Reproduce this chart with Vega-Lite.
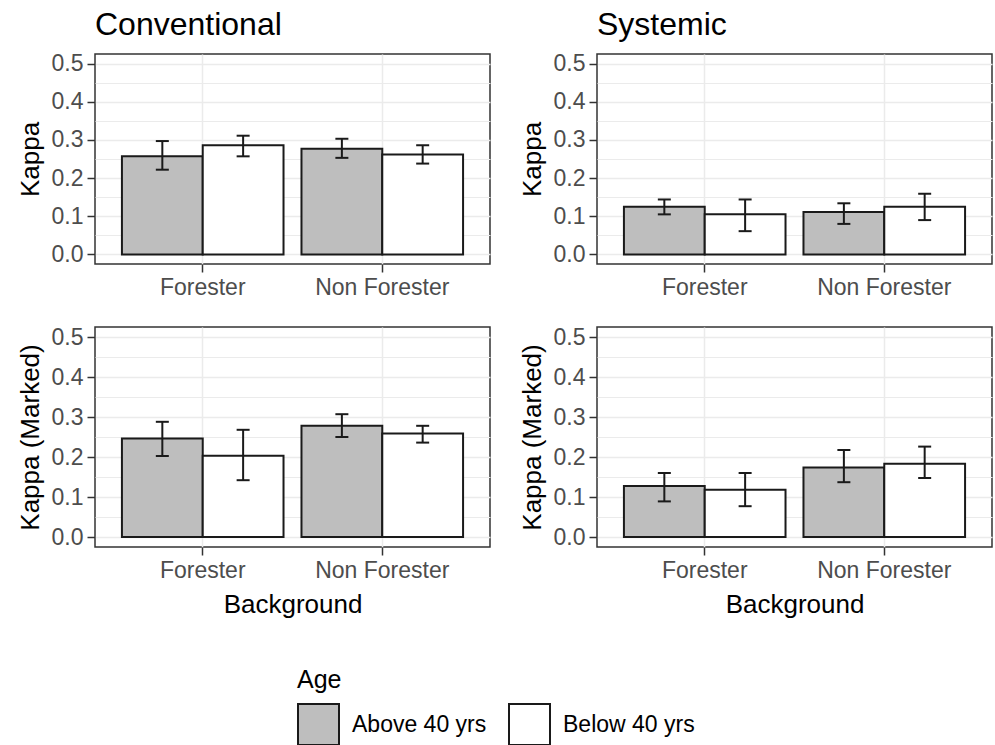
{
  "$schema": "https://vega.github.io/schema/vega-lite/v6.json",
  "padding": {"left": 16, "top": 7, "right": 2, "bottom": 0},
  "background": "#ffffff",
  "datasets": {
    "kappa": [
      {"panel": "Conventional", "background": "Forester", "age": "Above 40 yrs", "kappa": 0.257, "lo": 0.222, "hi": 0.297},
      {"panel": "Conventional", "background": "Forester", "age": "Below 40 yrs", "kappa": 0.286, "lo": 0.257, "hi": 0.311},
      {"panel": "Conventional", "background": "Non Forester", "age": "Above 40 yrs", "kappa": 0.277, "lo": 0.253, "hi": 0.303},
      {"panel": "Conventional", "background": "Non Forester", "age": "Below 40 yrs", "kappa": 0.262, "lo": 0.238, "hi": 0.286},
      {"panel": "Systemic", "background": "Forester", "age": "Above 40 yrs", "kappa": 0.125, "lo": 0.105, "hi": 0.144},
      {"panel": "Systemic", "background": "Forester", "age": "Below 40 yrs", "kappa": 0.105, "lo": 0.061, "hi": 0.144},
      {"panel": "Systemic", "background": "Non Forester", "age": "Above 40 yrs", "kappa": 0.111, "lo": 0.080, "hi": 0.134},
      {"panel": "Systemic", "background": "Non Forester", "age": "Below 40 yrs", "kappa": 0.125, "lo": 0.090, "hi": 0.159},
      {"panel": "Conventional Marked", "background": "Forester", "age": "Above 40 yrs", "kappa": 0.246, "lo": 0.2025, "hi": 0.288},
      {"panel": "Conventional Marked", "background": "Forester", "age": "Below 40 yrs", "kappa": 0.203, "lo": 0.142, "hi": 0.268},
      {"panel": "Conventional Marked", "background": "Non Forester", "age": "Above 40 yrs", "kappa": 0.278, "lo": 0.250, "hi": 0.307},
      {"panel": "Conventional Marked", "background": "Non Forester", "age": "Below 40 yrs", "kappa": 0.259, "lo": 0.236, "hi": 0.278},
      {"panel": "Systemic Marked", "background": "Forester", "age": "Above 40 yrs", "kappa": 0.1275, "lo": 0.089, "hi": 0.160},
      {"panel": "Systemic Marked", "background": "Forester", "age": "Below 40 yrs", "kappa": 0.118, "lo": 0.077, "hi": 0.160},
      {"panel": "Systemic Marked", "background": "Non Forester", "age": "Above 40 yrs", "kappa": 0.174, "lo": 0.137, "hi": 0.2175},
      {"panel": "Systemic Marked", "background": "Non Forester", "age": "Below 40 yrs", "kappa": 0.183, "lo": 0.1475, "hi": 0.226}
    ]
  },
  "data": {"name": "kappa"},
  "columns": 2,
  "bounds": "flush",
  "spacing": {"row": 63, "column": 107},
  "concat": [
    {
      "width": 395, "height": 210,
      "title": {"text": "Conventional"},
      "transform": [{"filter": "datum.panel == 'Conventional'"}],
      "encoding": {
        "x": {"field": "background", "type": "nominal", "sort": ["Forester", "Non Forester"], "scale": {"paddingInner": 0.1, "paddingOuter": 0.15}, "axis": {"title": null, "labelAngle": 0, "grid": true, "bandPosition": 0.5}},
        "xOffset": {"field": "age", "type": "nominal", "sort": ["Above 40 yrs", "Below 40 yrs"], "scale": {"paddingInner": 0, "paddingOuter": 0}}
      },
      "layer": [
        {"mark": {"type": "tick", "opacity": 0},
         "encoding": {"y": {"field": "kappa", "type": "quantitative", "scale": {"domain": [-0.025, 0.525], "nice": false, "zero": false}, "axis": {"orient": "right", "values": [0.05, 0.15, 0.25, 0.35, 0.45], "labels": false, "ticks": false, "domain": false, "title": null, "grid": true, "gridWidth": 1}}}},
        {"mark": {"type": "bar", "stroke": "#1a1a1a", "strokeWidth": 2},
         "encoding": {
           "y": {"field": "kappa", "type": "quantitative", "scale": {"domain": [-0.025, 0.525], "nice": false, "zero": false}, "axis": {"orient": "left", "title": "Kappa", "values": [0, 0.1, 0.2, 0.3, 0.4, 0.5], "format": ".1f", "grid": true}},
           "y2": {"datum": 0},
           "fill": {"field": "age", "type": "nominal", "scale": {"domain": ["Above 40 yrs", "Below 40 yrs"], "range": ["#bebebe", "#ffffff"]}, "legend": {"title": "Age"}}
         }},
        {"mark": {"type": "rule", "color": "#1a1a1a", "strokeWidth": 2},
         "encoding": {"y": {"field": "lo", "type": "quantitative", "scale": {"domain": [-0.025, 0.525], "nice": false, "zero": false}, "axis": null}, "y2": {"field": "hi"}}},
        {"mark": {"type": "tick", "color": "#1a1a1a", "thickness": 2, "size": 13, "opacity": 1},
         "encoding": {"y": {"field": "lo", "type": "quantitative", "scale": {"domain": [-0.025, 0.525], "nice": false, "zero": false}, "axis": null}}},
        {"mark": {"type": "tick", "color": "#1a1a1a", "thickness": 2, "size": 13, "opacity": 1},
         "encoding": {"y": {"field": "hi", "type": "quantitative", "scale": {"domain": [-0.025, 0.525], "nice": false, "zero": false}, "axis": null}}}
      ],
      "resolve": {"axis": {"y": "independent"}}
    },
    {
      "width": 395, "height": 210,
      "title": {"text": "Systemic"},
      "transform": [{"filter": "datum.panel == 'Systemic'"}],
      "encoding": {
        "x": {"field": "background", "type": "nominal", "sort": ["Forester", "Non Forester"], "scale": {"paddingInner": 0.1, "paddingOuter": 0.15}, "axis": {"title": null, "labelAngle": 0, "grid": true, "bandPosition": 0.5}},
        "xOffset": {"field": "age", "type": "nominal", "sort": ["Above 40 yrs", "Below 40 yrs"], "scale": {"paddingInner": 0, "paddingOuter": 0}}
      },
      "layer": [
        {"mark": {"type": "tick", "opacity": 0},
         "encoding": {"y": {"field": "kappa", "type": "quantitative", "scale": {"domain": [-0.025, 0.525], "nice": false, "zero": false}, "axis": {"orient": "right", "values": [0.05, 0.15, 0.25, 0.35, 0.45], "labels": false, "ticks": false, "domain": false, "title": null, "grid": true, "gridWidth": 1}}}},
        {"mark": {"type": "bar", "stroke": "#1a1a1a", "strokeWidth": 2},
         "encoding": {
           "y": {"field": "kappa", "type": "quantitative", "scale": {"domain": [-0.025, 0.525], "nice": false, "zero": false}, "axis": {"orient": "left", "title": "Kappa", "values": [0, 0.1, 0.2, 0.3, 0.4, 0.5], "format": ".1f", "grid": true}},
           "y2": {"datum": 0},
           "fill": {"field": "age", "type": "nominal", "scale": {"domain": ["Above 40 yrs", "Below 40 yrs"], "range": ["#bebebe", "#ffffff"]}, "legend": {"title": "Age"}}
         }},
        {"mark": {"type": "rule", "color": "#1a1a1a", "strokeWidth": 2},
         "encoding": {"y": {"field": "lo", "type": "quantitative", "scale": {"domain": [-0.025, 0.525], "nice": false, "zero": false}, "axis": null}, "y2": {"field": "hi"}}},
        {"mark": {"type": "tick", "color": "#1a1a1a", "thickness": 2, "size": 13, "opacity": 1},
         "encoding": {"y": {"field": "lo", "type": "quantitative", "scale": {"domain": [-0.025, 0.525], "nice": false, "zero": false}, "axis": null}}},
        {"mark": {"type": "tick", "color": "#1a1a1a", "thickness": 2, "size": 13, "opacity": 1},
         "encoding": {"y": {"field": "hi", "type": "quantitative", "scale": {"domain": [-0.025, 0.525], "nice": false, "zero": false}, "axis": null}}}
      ],
      "resolve": {"axis": {"y": "independent"}}
    },
    {
      "width": 395, "height": 220,
      "transform": [{"filter": "datum.panel == 'Conventional Marked'"}],
      "encoding": {
        "x": {"field": "background", "type": "nominal", "sort": ["Forester", "Non Forester"], "scale": {"paddingInner": 0.1, "paddingOuter": 0.15}, "axis": {"title": "Background", "labelAngle": 0, "grid": true, "bandPosition": 0.5}},
        "xOffset": {"field": "age", "type": "nominal", "sort": ["Above 40 yrs", "Below 40 yrs"], "scale": {"paddingInner": 0, "paddingOuter": 0}}
      },
      "layer": [
        {"mark": {"type": "tick", "opacity": 0},
         "encoding": {"y": {"field": "kappa", "type": "quantitative", "scale": {"domain": [-0.025, 0.525], "nice": false, "zero": false}, "axis": {"orient": "right", "values": [0.05, 0.15, 0.25, 0.35, 0.45], "labels": false, "ticks": false, "domain": false, "title": null, "grid": true, "gridWidth": 1}}}},
        {"mark": {"type": "bar", "stroke": "#1a1a1a", "strokeWidth": 2},
         "encoding": {
           "y": {"field": "kappa", "type": "quantitative", "scale": {"domain": [-0.025, 0.525], "nice": false, "zero": false}, "axis": {"orient": "left", "title": "Kappa (Marked)", "values": [0, 0.1, 0.2, 0.3, 0.4, 0.5], "format": ".1f", "grid": true}},
           "y2": {"datum": 0},
           "fill": {"field": "age", "type": "nominal", "scale": {"domain": ["Above 40 yrs", "Below 40 yrs"], "range": ["#bebebe", "#ffffff"]}, "legend": {"title": "Age"}}
         }},
        {"mark": {"type": "rule", "color": "#1a1a1a", "strokeWidth": 2},
         "encoding": {"y": {"field": "lo", "type": "quantitative", "scale": {"domain": [-0.025, 0.525], "nice": false, "zero": false}, "axis": null}, "y2": {"field": "hi"}}},
        {"mark": {"type": "tick", "color": "#1a1a1a", "thickness": 2, "size": 13, "opacity": 1},
         "encoding": {"y": {"field": "lo", "type": "quantitative", "scale": {"domain": [-0.025, 0.525], "nice": false, "zero": false}, "axis": null}}},
        {"mark": {"type": "tick", "color": "#1a1a1a", "thickness": 2, "size": 13, "opacity": 1},
         "encoding": {"y": {"field": "hi", "type": "quantitative", "scale": {"domain": [-0.025, 0.525], "nice": false, "zero": false}, "axis": null}}}
      ],
      "resolve": {"axis": {"y": "independent"}}
    },
    {
      "width": 395, "height": 220,
      "transform": [{"filter": "datum.panel == 'Systemic Marked'"}],
      "encoding": {
        "x": {"field": "background", "type": "nominal", "sort": ["Forester", "Non Forester"], "scale": {"paddingInner": 0.1, "paddingOuter": 0.15}, "axis": {"title": "Background", "labelAngle": 0, "grid": true, "bandPosition": 0.5}},
        "xOffset": {"field": "age", "type": "nominal", "sort": ["Above 40 yrs", "Below 40 yrs"], "scale": {"paddingInner": 0, "paddingOuter": 0}}
      },
      "layer": [
        {"mark": {"type": "tick", "opacity": 0},
         "encoding": {"y": {"field": "kappa", "type": "quantitative", "scale": {"domain": [-0.025, 0.525], "nice": false, "zero": false}, "axis": {"orient": "right", "values": [0.05, 0.15, 0.25, 0.35, 0.45], "labels": false, "ticks": false, "domain": false, "title": null, "grid": true, "gridWidth": 1}}}},
        {"mark": {"type": "bar", "stroke": "#1a1a1a", "strokeWidth": 2},
         "encoding": {
           "y": {"field": "kappa", "type": "quantitative", "scale": {"domain": [-0.025, 0.525], "nice": false, "zero": false}, "axis": {"orient": "left", "title": "Kappa (Marked)", "values": [0, 0.1, 0.2, 0.3, 0.4, 0.5], "format": ".1f", "grid": true}},
           "y2": {"datum": 0},
           "fill": {"field": "age", "type": "nominal", "scale": {"domain": ["Above 40 yrs", "Below 40 yrs"], "range": ["#bebebe", "#ffffff"]}, "legend": {"title": "Age"}}
         }},
        {"mark": {"type": "rule", "color": "#1a1a1a", "strokeWidth": 2},
         "encoding": {"y": {"field": "lo", "type": "quantitative", "scale": {"domain": [-0.025, 0.525], "nice": false, "zero": false}, "axis": null}, "y2": {"field": "hi"}}},
        {"mark": {"type": "tick", "color": "#1a1a1a", "thickness": 2, "size": 13, "opacity": 1},
         "encoding": {"y": {"field": "lo", "type": "quantitative", "scale": {"domain": [-0.025, 0.525], "nice": false, "zero": false}, "axis": null}}},
        {"mark": {"type": "tick", "color": "#1a1a1a", "thickness": 2, "size": 13, "opacity": 1},
         "encoding": {"y": {"field": "hi", "type": "quantitative", "scale": {"domain": [-0.025, 0.525], "nice": false, "zero": false}, "axis": null}}}
      ],
      "resolve": {"axis": {"y": "independent"}}
    }
  ],
  "config": {
    "font": "Liberation Sans",
    "view": {"stroke": "#333333", "strokeWidth": 1.5},
    "axis": {
      "labelFont": "Liberation Sans", "labelFontSize": 23, "labelColor": "#4d4d4d", "labelPadding": 4,
      "titleFont": "Liberation Sans", "titleFontSize": 26, "titleFontWeight": "normal", "titleColor": "#000000",
      "tickColor": "#333333", "tickSize": 8, "tickWidth": 1.5, "domain": false,
      "gridColor": "#ebebeb", "gridWidth": 1.5
    },
    "axisY": {"titlePadding": 8},
    "axisX": {"titlePadding": 9},
    "title": {"font": "Liberation Sans", "fontSize": 32, "fontWeight": "normal", "anchor": "start", "frame": "group", "color": "#000000", "baseline": "alphabetic", "offset": 11},
    "legend": {
      "orient": "none", "legendX": 202, "legendY": 614, "direction": "horizontal",
      "titleFont": "Liberation Sans", "titleFontSize": 25, "titleFontWeight": "normal", "titleColor": "#000000", "titlePadding": 10,
      "labelFont": "Liberation Sans", "labelFontSize": 23, "labelColor": "#000000", "labelOffset": 12,
      "symbolType": "square", "symbolSize": 1681, "symbolStrokeWidth": 2, "symbolStrokeColor": "#1a1a1a", "columnPadding": 18
    }
  }
}
